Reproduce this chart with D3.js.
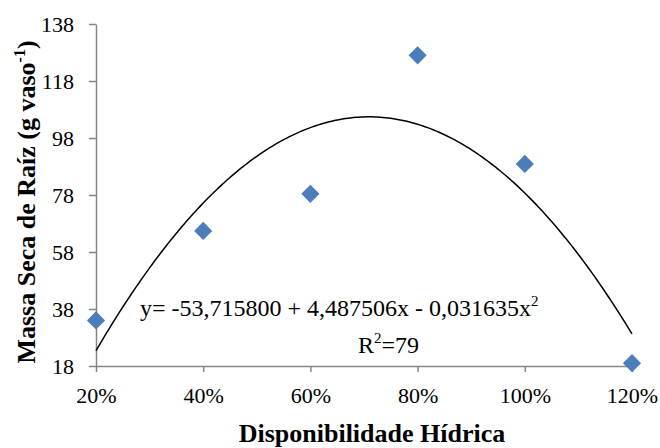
<!DOCTYPE html>
<html lang="pt">
<head>
    <meta charset="UTF-8">
    <title>Massa Seca de Raíz</title>
    <script src="https://cdn.jsdelivr.net/npm/d3@7/dist/d3.min.js"></script>
    <style>
        body { margin: 0; background: #fff; }
        text { font-family: "Liberation Serif", "Times New Roman", serif; fill: #000; }
    </style>
</head>
<body>
<script>
    // dados
    const disponibilidade = [20, 40, 60, 80, 100, 120];
    const massaSeca = [34, 65.4, 78.4, 127, 88.9, 19];
    const yTicks = [18, 38, 58, 78, 98, 118, 138];
    const xTickLabels = ['20%', '40%', '60%', '80%', '100%', '120%'];
    // coeficientes da regressão: a + b*x + c*x^2
    const coef = [-53.7158, 4.487506, -0.031635];

    const width = 660;
    const height = 448;
    const padding = { top: 24, right: 28, bottom: 82, left: 96 };

    const svg = d3.select('body')
        .append('svg')
        .attr('width', width)
        .attr('height', height);

    const xScale = d3.scaleLinear()
        .domain([20, 120])
        .range([padding.left, width - padding.right]);

    const yScale = d3.scaleLinear()
        .domain([18, 138])
        .range([height - padding.bottom, padding.top]);

    const axisColor = '#868686';

    // eixo x
    const xAxis = d3.axisBottom(xScale)
        .tickValues(disponibilidade)
        .tickFormat((d, i) => xTickLabels[i])
        .tickSizeInner(6)
        .tickSizeOuter(0)
        .tickPadding(15);

    const gx = svg.append('g')
        .attr('transform', `translate(0, ${height - padding.bottom})`)
        .call(xAxis);

    // eixo y
    const yAxis = d3.axisLeft(yScale)
        .tickValues(yTicks)
        .tickSizeInner(7)
        .tickSizeOuter(0)
        .tickPadding(15);

    const gy = svg.append('g')
        .attr('transform', `translate(${padding.left}, 0)`)
        .call(yAxis);

    [gx, gy].forEach(g => {
        g.select('.domain').attr('stroke', axisColor).attr('stroke-width', 1.5);
        g.selectAll('.tick line').attr('stroke', axisColor).attr('stroke-width', 1.5);
        g.selectAll('.tick text')
            .attr('font-family', '"Liberation Serif", serif')
            .attr('font-size', 22)
            .attr('fill', '#000');
    });

    // curva de regressão
    const curveX = d3.range(20, 120.5, 0.5);
    const line = d3.line()
        .x(d => xScale(d))
        .y(d => yScale(coef[0] + coef[1] * d + coef[2] * d * d));

    svg.append('path')
        .datum(curveX)
        .attr('d', line)
        .attr('fill', 'none')
        .attr('stroke', '#000')
        .attr('stroke-width', 1.5);

    // pontos (losangos)
    svg.selectAll('.ponto')
        .data(massaSeca)
        .enter()
        .append('path')
        .attr('class', 'ponto')
        .attr('d', d3.symbol().type(d3.symbolDiamond2).size(210))
        .attr('transform', (d, i) => `translate(${xScale(disponibilidade[i])}, ${yScale(d)})`)
        .attr('fill', '#4a7ebb');

    // equação
    const eq = svg.append('text')
        .attr('x', 140)
        .attr('y', 316)
        .attr('font-size', 24);
    eq.append('tspan').text('y= -53,715800 + 4,487506x - 0,031635x');
    eq.append('tspan').attr('font-size', 15).attr('dy', -10).text('2');

    const r2 = svg.append('text')
        .attr('x', 358)
        .attr('y', 353)
        .attr('font-size', 24);
    r2.append('tspan').text('R');
    r2.append('tspan').attr('font-size', 15).attr('dy', -10).text('2');
    r2.append('tspan').attr('dy', 10).text('=79');

    // títulos dos eixos
    svg.append('text')
        .attr('x', 372)
        .attr('y', 442)
        .attr('text-anchor', 'middle')
        .attr('font-size', 26)
        .attr('font-weight', 'bold')
        .text('Disponibilidade Hídrica');

    const yt = svg.append('text')
        .attr('transform', 'translate(35, 202) rotate(-90)')
        .attr('text-anchor', 'middle')
        .attr('font-size', 26)
        .attr('font-weight', 'bold');
    yt.append('tspan').text('Massa Seca de Raíz (g vaso');
    yt.append('tspan').attr('font-size', 16).attr('dy', -10).text('-1');
    yt.append('tspan').attr('dy', 10).text(')');
</script>
</body>
</html>
